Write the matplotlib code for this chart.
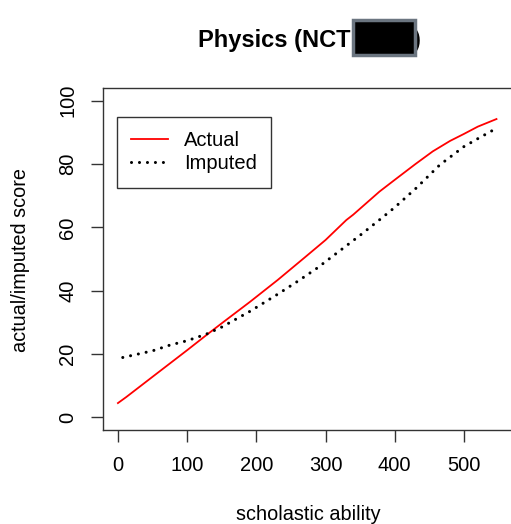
import matplotlib
matplotlib.use("Agg")
import matplotlib.pyplot as plt
from matplotlib.patches import Rectangle

# values
actual_x = [0, 12, 50, 100, 128, 150, 191, 231, 270, 300, 330, 340, 378, 400, 430, 455, 480, 500, 520, 547]
actual_y = [4.5, 6.4, 12.8, 21.2, 26.0, 29.7, 36.5, 43.4, 50.5, 56.0, 62.3, 64.0, 71.3, 75.0, 80.0, 84.0, 87.3, 89.5, 91.8, 94.2]

imputed_x = [7, 50, 75, 100, 128, 150, 191, 231, 260, 287, 320, 350, 381, 400, 431, 465, 500, 520, 543]
imputed_y = [18.9, 21.0, 22.8, 24.2, 26.3, 28.5, 33.5, 38.9, 43.0, 47.0, 52.5, 57.5, 62.9, 66.3, 72.4, 79.7, 85.5, 88.0, 90.8]

x_ticks = [0, 100, 200, 300, 400, 500]
y_ticks = [0, 20, 40, 60, 80, 100]

plt.rcParams["font.family"] = ["Liberation Sans", "DejaVu Sans"]

W, H = 511, 524
fig = plt.figure(figsize=(W / 100, H / 100), dpi=100)
ax = fig.add_axes([102.7 / W, (H - 430) / H, (512.4 - 102.7) / W, (430 - 88) / H])

ax.plot(actual_x, actual_y, color="red", linewidth=1.3, label="Actual")
ax.plot(imputed_x, imputed_y, color="black", linewidth=2.2,
        linestyle=(0, (0.01, 2.6)), dash_capstyle="round", label="Imputed")

ax.set_xlim(-22, 570)
ax.set_ylim(-4, 104)
ax.set_xticks(x_ticks)
ax.set_yticks(y_ticks)
ax.tick_params(axis="both", length=8.5, width=1, color="#333333",
               labelsize=14.5, pad=10)
for lab in ax.get_yticklabels():
    lab.set_rotation(90)
    lab.set_va("center")
for s in ax.spines.values():
    s.set_color("#333333")
    s.set_linewidth(1)

fig.text(308 / W, 1 - 515 / H, "scholastic ability", ha="center", va="center", fontsize=14.3)
fig.text(21 / W, 1 - 260 / H, "actual/imputed score", ha="center", va="center",
         rotation=90, fontsize=14.3)

leg = ax.legend(loc="upper left", bbox_to_anchor=(0.0356, 0.9143), borderaxespad=0,
                fontsize=14.5, frameon=True, fancybox=False, edgecolor="black",
                handlelength=1.8, handletextpad=0.8, borderpad=0.7, labelspacing=0.2)
leg.get_frame().set_linewidth(1)

# title, part of it covered by a redaction box
fig.text(198.3 / W, 1 - 47.3 / H, "Physics (NCT", ha="left", va="baseline",
         fontsize=17, fontweight="bold")
fig.text(413 / W, 1 - 47.3 / H, ")", ha="left", va="baseline",
         fontsize=17, fontweight="bold", color="black")
fig.patches.append(Rectangle((353 / W, 1 - 55 / H), 62 / W, 35 / H,
                             transform=fig.transFigure, facecolor="black",
                             edgecolor="#6b7580", linewidth=2.5, zorder=5))

fig.savefig("out.png", dpi=100)
